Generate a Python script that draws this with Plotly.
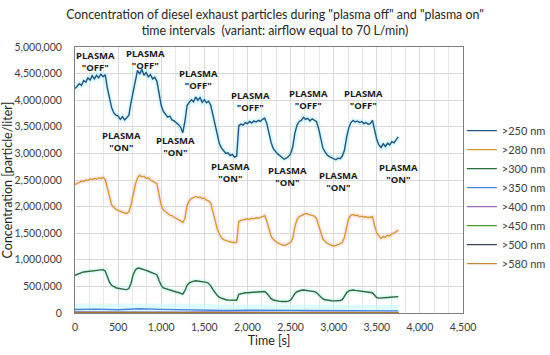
import plotly.graph_objects as go

# time grid (s) for the three main series
time_s = list(range(0, 3751, 25))

# values in thousands of particles per liter
gt250_k = [4220, 4260, 4310, 4280, 4370, 4340, 4420, 4380, 4460, 4400, 4470, 4420, 4490, 4440, 4480,
           4230, 4020, 3860, 3760, 3720, 3700, 3640, 3690, 3630, 3670, 3720, 3960, 4180, 4400, 4560,
           4490, 4580, 4470, 4520, 4440, 4480, 4400, 4430, 4360, 4120, 3900, 3790, 3740, 3680, 3700,
           3630, 3610, 3580, 3540, 3490, 3390, 3600, 3900, 3960, 4010, 3970, 4060, 4000, 4050, 3960,
           4010, 3950, 3980, 3900, 3720, 3520, 3330, 3180, 3100, 3050, 3000, 3010, 2960, 2980, 2930,
           2950, 3520, 3550, 3530, 3580, 3560, 3600, 3570, 3610, 3590, 3620, 3600, 3640, 3660, 3560,
           3380, 3200, 3090, 3030, 2990, 2960, 2920, 2890, 2910, 2940, 2990, 3120, 3380, 3530, 3600,
           3620, 3680, 3640, 3660, 3610, 3650, 3620, 3600, 3470, 3280, 3100, 3030, 2970, 2940, 2920,
           2890, 2880, 2910, 2900, 2950, 3060, 3300, 3480, 3580, 3620, 3590, 3610, 3580, 3600, 3560,
           3580, 3550, 3560, 3620, 3460, 3260, 3160, 3110, 3180, 3130, 3190, 3160, 3220, 3200, 3260,
           3310]
gt280_k = [2410, 2440, 2450, 2480, 2470, 2500, 2490, 2520, 2510, 2530, 2520, 2540, 2530, 2550, 2510,
           2330, 2150, 2030, 1990, 1950, 1930, 1910, 1890, 1880, 1870, 1900, 2030, 2240, 2420, 2540,
           2590, 2560, 2570, 2530, 2540, 2500, 2480, 2460, 2430, 2220, 2020, 1940, 1900, 1870, 1840,
           1830, 1800, 1780, 1760, 1730, 1700, 1780, 2020, 2110, 2150, 2170, 2190, 2170, 2180, 2150,
           2160, 2120, 2110, 2060, 1900, 1720, 1580, 1480, 1410, 1380, 1360, 1350, 1340, 1330, 1320,
           1330, 1720, 1740, 1750, 1760, 1770, 1760, 1780, 1770, 1790, 1780, 1800, 1810, 1830, 1730,
           1570, 1440, 1380, 1340, 1320, 1300, 1290, 1270, 1280, 1300, 1330, 1400, 1620, 1760, 1810,
           1830, 1850, 1870, 1860, 1850, 1830, 1820, 1780, 1640, 1480, 1390, 1350, 1310, 1290, 1280,
           1260, 1270, 1280, 1300, 1330, 1420, 1610, 1780, 1840, 1850, 1830, 1840, 1810, 1820, 1800,
           1810, 1790, 1800, 1810, 1640, 1500, 1450, 1400, 1440, 1420, 1460, 1450, 1490, 1500, 1530,
           1560]
gt300_k = [710, 730, 750, 760, 770, 775, 780, 785, 790, 795, 800, 805, 810, 815, 790,
           680, 580, 520, 490, 475, 465, 455, 450, 445, 440, 460, 560, 720, 810, 840,
           840, 830, 815, 800, 785, 770, 755, 740, 720, 610, 520, 470, 455, 440, 430,
           415, 405, 395, 385, 370, 355, 420, 520, 565, 585, 600, 605, 600, 600, 595,
           585, 575, 555, 510, 440, 380, 330, 295, 275, 260, 250, 245, 242, 240, 238,
           240, 350, 365, 375, 380, 382, 385, 388, 390, 392, 395, 398, 402, 405, 370,
           320, 270, 245, 232, 225, 218, 215, 212, 215, 222, 240, 300, 365, 400, 420,
           428, 432, 428, 422, 415, 408, 402, 385, 340, 295, 265, 250, 240, 232, 230,
           228, 228, 230, 235, 250, 310, 380, 415, 430, 432, 425, 420, 415, 410, 405,
           400, 395, 390, 380, 335, 290, 280, 280, 285, 290, 290, 295, 298, 300, 303,
           307]

# coarse grid for the small-size series
time_coarse = [0, 250, 500, 750, 1000, 1250, 1500, 1750, 2000, 2250, 2500, 2750, 3000, 3250, 3500, 3750]
gt350_k = [65, 72, 62, 80, 68, 58, 62, 48, 52, 50, 42, 48, 40, 46, 42, 40]
gt400_k = [20, 22, 18, 24, 20, 17, 18, 14, 15, 15, 12, 14, 12, 13, 12, 12]
gt450_k = [8, 9, 7, 10, 8, 7, 7, 6, 6, 6, 5, 6, 5, 5, 5, 5]
gt500_k = [4, 4, 3, 5, 4, 3, 3, 3, 3, 3, 2, 3, 2, 2, 2, 2]
gt580_k = [1, 1, 1, 2, 1, 1, 1, 1, 1, 1, 1, 1, 1, 1, 1, 1]

series_names = [">250 nm", ">280 nm", ">300 nm", ">350 nm", ">400 nm", ">450 nm", ">500 nm", ">580 nm"]
series_colors = ["#1d5586", "#d89a2c", "#2e6a38", "#4a86d8", "#9b6bbf", "#4f9a34", "#3b4658", "#c5882e"]
glow_colors = ["rgba(150,235,250,0.35)", "rgba(255,200,220,0.35)", "rgba(170,240,245,0.35)",
               "rgba(200,248,252,0.6)", None, None, None, None]

# annotation positions (data coords) and labels
off_x = [232, 812, 1438, 2030, 2703, 3341]
off_y = [4730000, 4770000, 4390000, 3980000, 4010000, 4010000]
on_x = [545, 1160, 1798, 2459, 3051, 3747]
on_y = [3220000, 3130000, 2640000, 2570000, 2470000, 2620000]

main_data = [gt250_k, gt280_k, gt300_k]
small_data = [gt350_k, gt400_k, gt450_k, gt500_k, gt580_k]

FONT = "Lato, sans-serif"

fig = go.Figure()

# glow underlays
for i, d in enumerate(main_data):
    fig.add_trace(go.Scatter(x=time_s, y=[v * 1000 for v in d], mode="lines",
                             line=dict(color=glow_colors[i], width=5), showlegend=False, hoverinfo="skip"))
fig.add_trace(go.Scatter(x=time_coarse, y=[v * 1000 for v in gt350_k], mode="lines",
                         line=dict(color=glow_colors[3], width=12), showlegend=False, hoverinfo="skip"))

for i, d in enumerate(main_data):
    fig.add_trace(go.Scatter(x=time_s, y=[v * 1000 for v in d], mode="lines", name=series_names[i],
                             line=dict(color=series_colors[i], width=1.4)))
for j, d in enumerate(small_data):
    i = j + 3
    fig.add_trace(go.Scatter(x=time_coarse, y=[v * 1000 for v in d], mode="lines", name=series_names[i],
                             line=dict(color=series_colors[i], width=1.4)))

ann_font = dict(family="Open Sans", size=9.5, color="#1a1a1a")
for x, y in zip(off_x, off_y):
    fig.add_annotation(x=x, y=y, text='<b>PLASMA</b><br><b>"OFF"</b>', showarrow=False,
                       font=ann_font, align="center")
for x, y in zip(on_x, on_y):
    fig.add_annotation(x=x, y=y, text='<b>PLASMA</b><br><b>"ON"</b>', showarrow=False,
                       font=ann_font, align="center")

fig.update_layout(
    width=550, height=355,
    margin=dict(l=75, r=87, t=47, b=42, autoexpand=False),
    paper_bgcolor="white", plot_bgcolor="white",
    font=dict(family=FONT, color="#404040"),
    title=dict(text='Concentration of diesel exhaust particles during "plasma off" and "plasma on"<br>'
                    'time intervals  (variant: airflow equal to 70 L/min)',
               x=0.5, xanchor="center", yref="container", y=0.946, yanchor="middle",
               font=dict(family=FONT, size=12.4, color="#262626")),
    legend=dict(x=0.997, xanchor="left", y=0.74, yanchor="top",
                font=dict(family=FONT, size=11, color="#404040"),
                tracegroupgap=0, itemwidth=30, bgcolor="rgba(0,0,0,0)"),
    showlegend=True,
)
fig.update_xaxes(range=[0, 4500], dtick=500, tickformat=",", showgrid=True, gridcolor="#d9d9d9",
                 minor=dict(dtick=500 / 3, showgrid=True, gridcolor="#e6e6e6"),
                 showline=True, linecolor="#7f7f7f", linewidth=1, mirror=True, ticks="",
                 zeroline=False, automargin=False, ticklabelstandoff=4,
                 tickfont=dict(family=FONT, size=10.5, color="#404040"),
                 title=dict(text="Time [s]", standoff=4,
                            font=dict(family=FONT, size=12.5, color="#262626")))
fig.update_yaxes(range=[0, 5000000], dtick=500000, tickformat=",", showgrid=True, gridcolor="#d9d9d9",
                 showline=True, linecolor="#7f7f7f", linewidth=1, mirror=True, ticks="",
                 zeroline=False, automargin=False, ticklabelstandoff=10,
                 tickfont=dict(family=FONT, size=10.5, color="#404040"),
                 title=dict(text="Concentration [particle/liter]", standoff=1,
                            font=dict(family=FONT, size=12.5, color="#262626")))

fig.write_html("out.html", config={"displayModeBar": False},
               post_script="document.body.style.margin='0';")
